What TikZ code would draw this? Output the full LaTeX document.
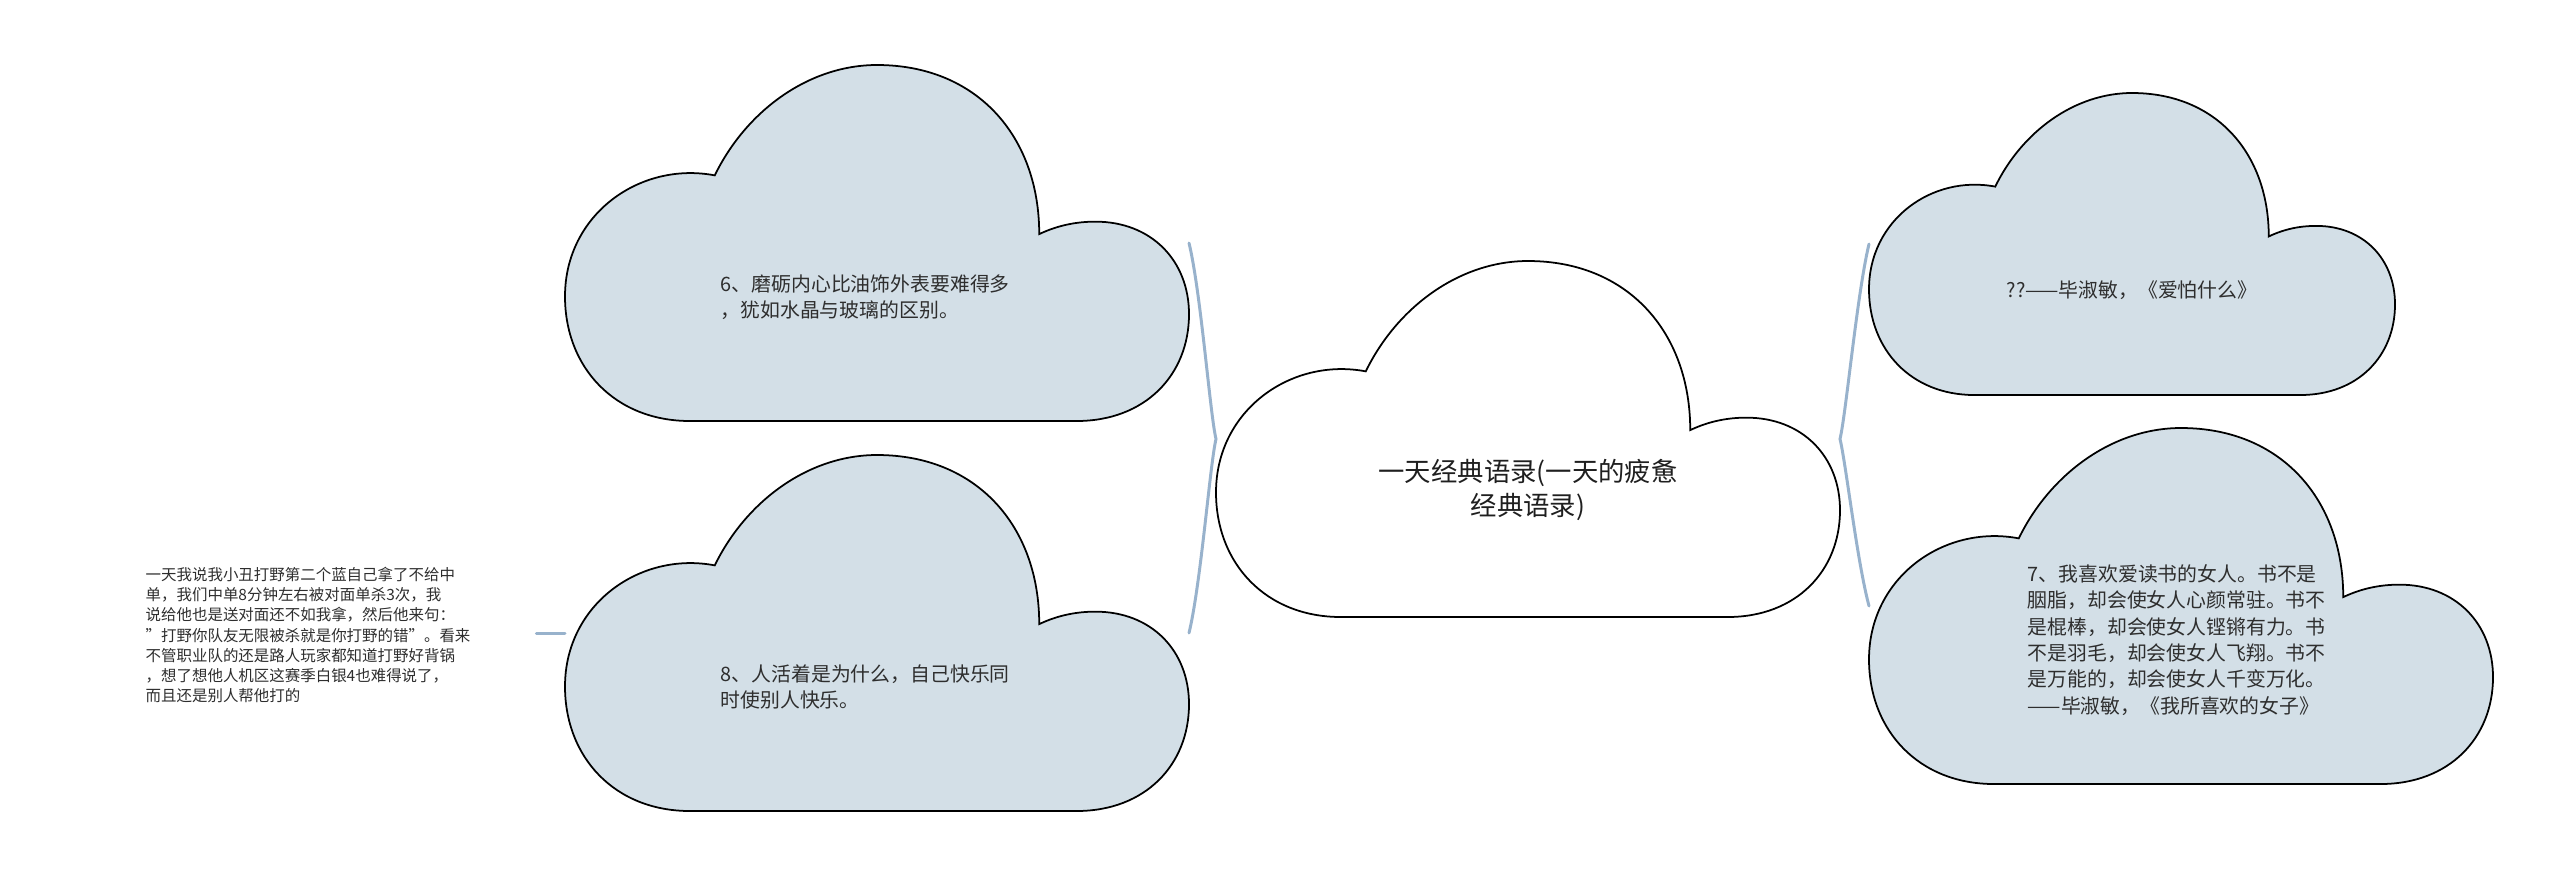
\documentclass[tikz,border=0pt]{standalone}
\usepackage{fontspec}
\setmainfont{Noto Sans CJK SC}
\usetikzlibrary{positioning, calc}
\definecolor{cloudfill}{RGB}{211,223,231}
\definecolor{linkblue}{RGB}{152,178,204}
% outline of one cloud in unit box, y measured downwards
\newcommand{\cloudoutline}{(0.2,1) .. controls (0.08,1) and (0,0.85) .. (0,0.65)
  .. controls (0,0.42) and (0.12,0.27) .. (0.24,0.31)
  .. controls (0.29,0.13) and (0.39,0) .. (0.5,0)
  .. controls (0.66,0) and (0.76,0.2) .. (0.76,0.475)
  .. controls (0.79,0.45) and (0.82,0.44) .. (0.85,0.44)
  .. controls (0.94,0.44) and (1,0.55) .. (1,0.7)
  .. controls (1,0.87) and (0.93,1) .. (0.82,1) -- cycle}
% cloud drawn over the box of a named node: node, width, height, fill
\newcommand{\cloudon}[4]{\filldraw[fill=#4, draw=black, line width=0.5pt,
  shift={(#1.north west)}, x=#2cm, y=-#3cm] \cloudoutline;}
\begin{document}
\begin{tikzpicture}[
          cloudbox/.style 2 args={rectangle, inner sep=0pt, outer sep=0pt,
                      minimum width=#1cm, minimum height=#2cm},
          titletext/.style={inner sep=0pt, align=center, text=black!88,
                      font=\fontsize{7.5}{9.9}\selectfont},
          quotetext/.style={inner sep=0pt, align=left, text=black!82,
                      font=\fontsize{5.65}{7.5}\selectfont},
          sidetext/.style={inner sep=0pt, align=left, text=black!82, text width=3.9cm,
                      font=\fontsize{4.4}{5.7}\selectfont},
          link/.style={draw=linkblue, line width=0.85pt, line cap=round}
        ]
        \useasboundingbox (0,0) rectangle (25.6,8.79);
        \node[cloudbox={6.24}{3.56}] (c0) at (15.28,4.40) {};
        \node[cloudbox={6.24}{3.56}] (c6) at (8.77,6.36) {};
        \node[cloudbox={6.24}{3.56}] (c8) at (8.77,2.46) {};
        \node[cloudbox={5.26}{3.02}] (cq) at (21.32,6.35) {};
        \node[cloudbox={6.24}{3.56}] (c7) at (21.81,2.73) {};
        \cloudon{c0}{6.24}{3.56}{white}
        \cloudon{c6}{6.24}{3.56}{cloudfill}
        \cloudon{c8}{6.24}{3.56}{cloudfill}
        \cloudon{cq}{5.26}{3.02}{cloudfill}
        \cloudon{c7}{6.24}{3.56}{cloudfill}
        \node[titletext] (t0) at ([yshift=-0.51cm]c0.center) {一天经典语录(一天的疲惫\\经典语录)};
        \node[quotetext, anchor=west] (t6) at ([xshift=-1.57cm, yshift=-0.54cm]c6.center)
          {6、磨砺内心比油饰外表要难得多\\，犹如水晶与玻璃的区别。};
        \node[quotetext, anchor=west] (t8) at ([xshift=-1.57cm, yshift=-0.54cm]c8.center)
          {8、人活着是为什么，自己快乐同\\时使别人快乐。};
        \node[quotetext] (tq) at ([yshift=-0.46cm]cq.center) {??——毕淑敏，《爱怕什么》};
        \node[quotetext, anchor=west] (t7) at ([xshift=-1.54cm, yshift=-0.34cm]c7.center)
          {7、我喜欢爱读书的女人。书不是\\胭脂，却会使女人心颜常驻。书不\\是棍棒，却会使女人铿锵有力。书\\不是羽毛，却会使女人飞翔。书不\\是万能的，却会使女人千变万化。\\——毕淑敏，《我所喜欢的女子》};
        \node[sidetext, anchor=west] (tl) at (1.45,2.44)
          {一天我说我小丑打野第二个蓝自己拿了不给中\\单，我们中单8分钟左右被对面单杀3次，我\\说给他也是送对面还不如我拿，然后他来句：\\"打野你队友无限被杀就是你打野的错"。看来\\不管职业队的还是路人玩家都知道打野好背锅\\，想了想他人机区这赛季白银4也难得说了，\\而且还是别人帮他打的};
        \draw[link] (c6.east) .. controls +(0.12,-0.5) and +(-0.06,0.25) .. (c0.west)
          .. controls +(-0.06,-0.25) and +(0.12,0.5) .. (c8.east);
        \draw[link] (cq.west) .. controls +(-0.12,-0.5) and +(0.06,0.25) .. (c0.east)
          .. controls +(0.06,-0.25) and +(-0.12,0.45) .. (c7.west);
        \draw[link] (c8.west) -- (tl.east |- c8.west);
      \end{tikzpicture}
\end{document}
